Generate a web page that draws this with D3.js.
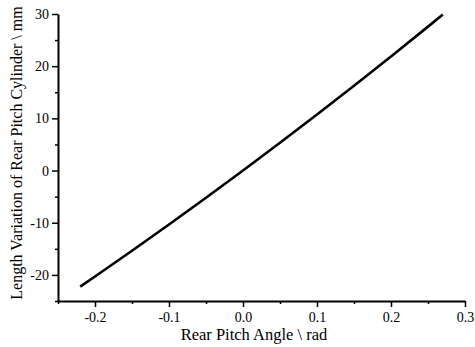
<!DOCTYPE html>
<html><head><meta charset="utf-8">
<script src="https://cdn.jsdelivr.net/npm/d3@7/dist/d3.min.js"></script>
<style>body{margin:0;background:#fff}svg{display:block}text{font-family:"Liberation Serif","Times New Roman",serif;fill:#000}</style>
</head><body>
<svg id="c" width="475" height="347"></svg>
<script>
const angles = [-0.22, -0.2, -0.15, -0.1, -0.05, 0, 0.05, 0.1, 0.15, 0.2, 0.25, 0.27];
const lengths = [-22.25, -20.3, -15.37, -10.34, -5.22, 0, 5.32, 10.74, 16.25, 21.86, 27.58, 29.9];
const xTicks = [-0.2, -0.1, 0.0, 0.1, 0.2, 0.3];
const xMinor = [-0.25, -0.15, -0.05, 0.05, 0.15, 0.25];
const yTicks = [-20, -10, 0, 10, 20, 30];
const yMinor = [-25, -15, -5, 5, 15, 25];
const xTitle = "Rear Pitch Angle \\ rad";
const yTitle = "Length Variation of Rear Pitch Cylinder \\ mm";

const svg = d3.select("#c");
const x = d3.scaleLinear().domain([-0.25, 0.3]).range([58, 465]);
const y = d3.scaleLinear().domain([-25, 30]).range([301, 14]);
const hy = f => d => f(d).replace("\u2212","-");

const g = svg.append("g");
g.append("g").attr("transform","translate(0,301)")
  .call(d3.axisBottom(x).tickValues(xMinor).tickSize(3).tickFormat(""))
  .call(s=>s.select(".domain").remove())
  .selectAll("line").attr("stroke-width",1.5);
g.append("g").attr("transform","translate(58,0)")
  .call(d3.axisLeft(y).tickValues(yMinor).tickSize(3).tickFormat(""))
  .call(s=>s.select(".domain").remove())
  .selectAll("line").attr("stroke-width",1.5);
const xa = g.append("g").attr("transform","translate(0,301)")
  .call(d3.axisBottom(x).tickValues(xTicks).tickSize(6).tickSizeOuter(0).tickPadding(5).tickFormat(hy(d3.format(".1f"))));
xa.select(".domain").attr("stroke-width",2);
xa.selectAll("line").attr("stroke-width",1.5);
xa.selectAll("text").attr("font-size",14).style("font-family",'"Liberation Serif",serif');
const ya = g.append("g").attr("transform","translate(58,0)")
  .call(d3.axisLeft(y).tickValues(yTicks).tickSize(6).tickSizeOuter(0).tickPadding(3).tickFormat(hy(d3.format("d"))));
ya.select(".domain").attr("stroke-width",2);
ya.selectAll("line").attr("stroke-width",1.5);
ya.selectAll("text").attr("font-size",14).style("font-family",'"Liberation Serif",serif');

svg.append("path").datum(angles.map((a,i)=>[a,lengths[i]]))
  .attr("fill","none").attr("stroke","#000").attr("stroke-width",2.6)
  .attr("d", d3.line().x(d=>x(d[0])).y(d=>y(d[1])).curve(d3.curveMonotoneX));

svg.append("text").attr("x",254).attr("y",340).attr("text-anchor","middle").attr("font-size",16.5).text(xTitle);
svg.append("text").attr("transform","translate(22,153) rotate(-90)").attr("text-anchor","middle").attr("font-size",16).text(yTitle);
</script>
</body></html>
